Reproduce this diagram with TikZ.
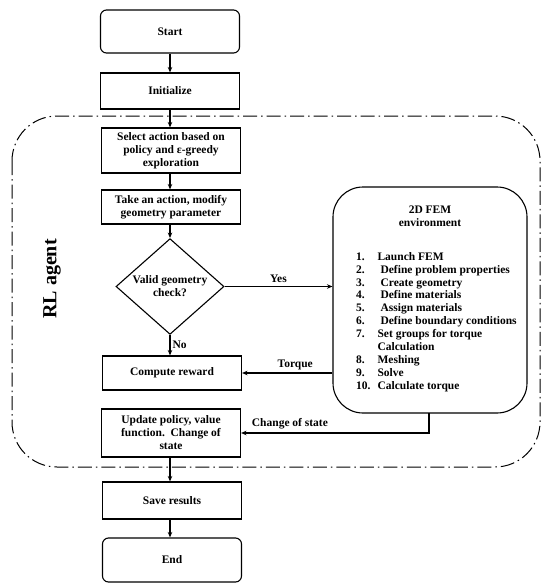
\documentclass[tikz,border=0pt]{standalone}
\usepackage{fontspec}
\setmainfont{Liberation Serif}
\usetikzlibrary{shapes.geometric,arrows.meta}
\tikzset{
  every node/.style={font=\fontsize{11.5}{13}\selectfont\bfseries},
  procbox/.style={draw, line width=1.1pt, minimum width=139pt, align=center, inner sep=1pt},
  termbox/.style={draw, line width=1.1pt, rounded corners=6pt, minimum width=139pt, align=center},
  arr/.style={line width=1.1pt, -{Stealth[length=5.5pt,width=4.5pt]}},
  region/.style={line width=1pt, rounded corners=45pt, dash pattern=on 14pt off 4pt on 1.5pt off 4pt},
  lbl/.style={inner sep=1pt}
}
\begin{document}
\begin{tikzpicture}[x=1pt,y=-1pt]
\useasboundingbox (0,0) rectangle (550,584);
% RL agent region
\draw[region] (12,116) rectangle (540,467);
\node[rotate=90, font=\fontsize{20}{24}\selectfont\bfseries] (rl) at (52,279) {RL agent};
% main column
\node[termbox, minimum height=43pt] (start) at (170,31.5) {Start};
\node[procbox, minimum height=36pt] (init) at (170,91) {Initialize};
\node[procbox, minimum height=45pt] (select) at (171,150.5) {Select action based on\\policy and ε-greedy\\exploration};
\node[procbox, minimum height=34pt] (take) at (171,207) {Take an action, modify\\geometry parameter};
\node[draw, diamond, line width=1.1pt, aspect=1, inner sep=0pt, minimum width=108pt, minimum height=95pt, align=center] (valid) at (170,286.5) {Valid geometry\\check?};
\node[procbox, minimum height=34pt] (reward) at (172,373) {Compute reward};
\node[procbox, minimum height=48pt] (update) at (171,433) {Update policy, value\\function.\ \ Change of\\state};
\node[procbox, minimum height=37pt] (save) at (172,500.5) {Save results};
\node[termbox, minimum height=44pt] (end) at (172,560) {End};
% FEM environment
\node[draw, line width=1.1pt, rounded corners=30pt, minimum width=194pt, minimum height=226pt] (fem) at (430,300) {};
\node[align=center] (femtitle) at (430,216.5) {2D FEM\\environment};
\node[anchor=north west, inner sep=0pt, font=\fontsize{11.5}{12.9}\selectfont\bfseries] (femlist) at (356,251) {%
\begin{tabular}{@{}l@{\hspace{7pt}}l@{}}
1. & Launch FEM\\
2. & \hspace{3pt}Define problem properties\\
3. & \hspace{3pt}Create geometry\\
4. & \hspace{3pt}Define materials\\
5. & \hspace{3pt}Assign materials\\
6. & \hspace{3pt}Define boundary conditions\\
7. & Set groups for torque\\
   & Calculation\\
8. & Meshing\\
9. & Solve\\
10. & Calculate torque
\end{tabular}};
% connectors
\draw[arr] (start) -- (init);
\draw[arr] (init) -- (init.south |- select.north);
\draw[arr] (select.south -| valid) -- (take.north -| valid);
\draw[arr] (take.south -| valid) -- (valid.north);
\draw[arr] (valid.south) -- (valid.south |- reward.north) node[lbl, midway, right=1pt] {No};
\draw[arr] (valid.east) -- (valid.east -| fem.west) node[lbl, midway, above=2pt] {Yes};
\draw[arr] (fem.west |- reward.east) -- (reward.east) node[lbl, midway, above=2pt, xshift=8pt] {Torque};
\coordinate (femout) at (429,413);
\draw[arr] (femout) |- (update.east) node[lbl, pos=0.87, above=2pt] {Change of state};
\draw[arr] (update.south -| valid) -- (save.north -| valid);
\draw[arr] (save.south -| valid) -- (end.north -| valid);
\end{tikzpicture}
\end{document}
